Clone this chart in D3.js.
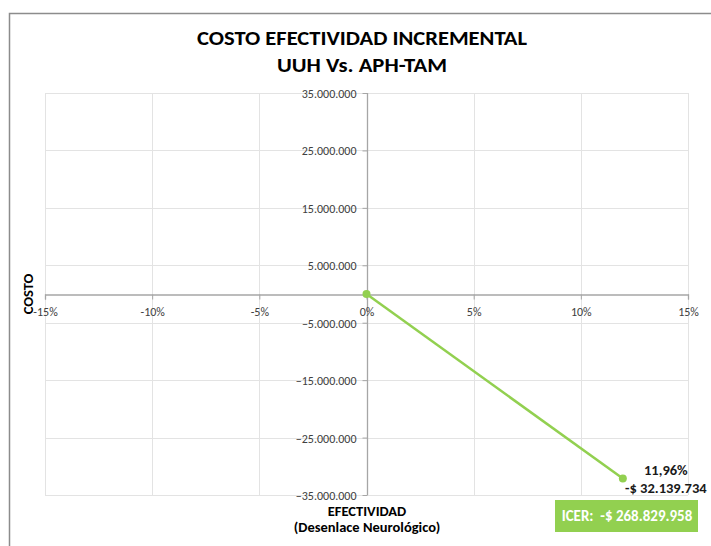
<!DOCTYPE html>
<html>
<head>
<meta charset="utf-8">
<script src="https://cdn.jsdelivr.net/npm/d3@7"></script>
<style>
body{margin:0;background:#fff;}
</style>
</head>
<body>
<div id="chart"></div>
<script>
// data
var titleLines = ["COSTO EFECTIVIDAD INCREMENTAL", "UUH Vs. APH-TAM"];
var effectiveness = [0, 0.1196];
var cost = [0, -32139734];
var xTicks = [-0.15, -0.10, -0.05, 0, 0.05, 0.10, 0.15];
var yTicks = [35e6, 25e6, 15e6, 5e6, -5e6, -15e6, -25e6, -35e6];
var pointLabel = ["11,96%", "-$ 32.139.734"];
var icerText = "ICER:  -$ 268.829.958";

var width = 711, height = 546;
var font = "Carlito, 'Liberation Sans Narrow', 'Open Sans', sans-serif";
var locale = d3.formatLocale({decimal: ",", thousands: ".", grouping: [3], currency: ["$", ""]});
var fNum = locale.format(",.0f");
var fPct = d => Math.round(d * 100) + "%";

var svg = d3.select("#chart").append("svg")
    .attr("width", width).attr("height", height)
    .attr("font-family", font);

// outer chart border
svg.append("rect")
    .attr("x", 9.5).attr("y", 13.5)
    .attr("width", 720).attr("height", 560)
    .attr("fill", "#fff").attr("stroke", "#8c8c8c").attr("stroke-width", 1.5);

var x = d3.scaleLinear().domain([-0.15, 0.15]).range([45, 688]);
var y = d3.scaleLinear().domain([-35e6, 35e6]).range([495, 93]);

// title
svg.append("g").selectAll("text")
    .data(titleLines)
    .enter().append("text")
    .attr("x", 362)
    .attr("y", (d, i) => 45 + i * 27)
    .attr("text-anchor", "middle")
    .attr("font-size", 21)
    .attr("font-weight", "bold")
    .attr("fill", "#000")
    .attr("textLength", (d, i) => i == 0 ? 330 : 170)
    .attr("lengthAdjust", "spacingAndGlyphs")
    .text(d => d);

// gridlines
var grid = svg.append("g").attr("stroke", "#e3e3e3").attr("stroke-width", 1);
grid.selectAll(".vx").data(xTicks).enter().append("line")
    .attr("x1", d => Math.round(x(d)) + 0.5).attr("x2", d => Math.round(x(d)) + 0.5)
    .attr("y1", y(35e6)).attr("y2", y(-35e6));
grid.selectAll(".hy").data(yTicks).enter().append("line")
    .attr("y1", d => Math.round(y(d)) + 0.5).attr("y2", d => Math.round(y(d)) + 0.5)
    .attr("x1", x(-0.15)).attr("x2", x(0.15));

// axes
var axisColor = "#a6a6a6";
var yAxis = svg.append("g")
    .attr("transform", "translate(" + (Math.round(x(0)) + 0.5) + ",0)")
    .call(d3.axisLeft(y).tickValues(yTicks).tickFormat(fNum).tickSize(5).tickPadding(6));
var xAxis = svg.append("g")
    .attr("transform", "translate(0," + (Math.round(y(0)) + 0.5) + ")")
    .call(d3.axisBottom(x).tickValues(xTicks).tickFormat(fPct).tickSize(5).tickPadding(8));
[xAxis, yAxis].forEach(function(a){
    a.select(".domain").attr("stroke", axisColor).attr("stroke-width", 1.3);
    a.selectAll(".tick line").attr("stroke", axisColor);
    a.selectAll(".tick text").attr("fill", "#404040").attr("font-size", 12)
        .attr("font-family", font);
});
yAxis.select(".domain").attr("d", "M0," + y(35e6) + "V" + y(-35e6));
yAxis.selectAll(".tick text").attr("dy", "0.38em");

// axis titles
svg.append("text")
    .attr("transform", "translate(33,294) rotate(-90)")
    .attr("text-anchor", "middle")
    .attr("font-size", 14.5).attr("font-weight", "bold")
    .text("COSTO");
svg.append("g").selectAll("text")
    .data(["EFECTIVIDAD", "(Desenlace Neurológico)"])
    .enter().append("text")
    .attr("x", 367)
    .attr("y", (d, i) => 515.5 + i * 16.5)
    .attr("text-anchor", "middle")
    .attr("font-size", 14.5).attr("font-weight", "bold")
    .text(d => d);

// series
var pts = effectiveness.map((e, i) => [e, cost[i]]);
var green = "#92d050";
svg.append("path")
    .datum(pts)
    .attr("fill", "none").attr("stroke", green).attr("stroke-width", 2.5)
    .attr("d", d3.line().x(d => x(d[0])).y(d => y(d[1])));
svg.append("g").selectAll("circle")
    .data(pts).enter().append("circle")
    .attr("cx", d => x(d[0])).attr("cy", d => y(d[1]))
    .attr("r", 4).attr("fill", green);

// data label
var last = pts[pts.length - 1];
svg.append("g").selectAll("text")
    .data(pointLabel).enter().append("text")
    .attr("x", x(last[0]) + 43)
    .attr("y", (d, i) => y(last[1]) - 4 + i * 18)
    .attr("text-anchor", "middle")
    .attr("font-size", 14.5).attr("font-weight", "bold").attr("fill", "#1a1a1a")
    .text(d => d);

// ICER box
svg.append("rect")
    .attr("x", 555).attr("y", 500).attr("width", 143).attr("height", 32)
    .attr("fill", green);
svg.append("text")
    .attr("x", 627).attr("y", 521)
    .attr("text-anchor", "middle")
    .attr("font-size", 15).attr("font-weight", "bold").attr("fill", "#fff")
    .style("white-space", "pre")
    .text(icerText);
</script>
</body>
</html>
